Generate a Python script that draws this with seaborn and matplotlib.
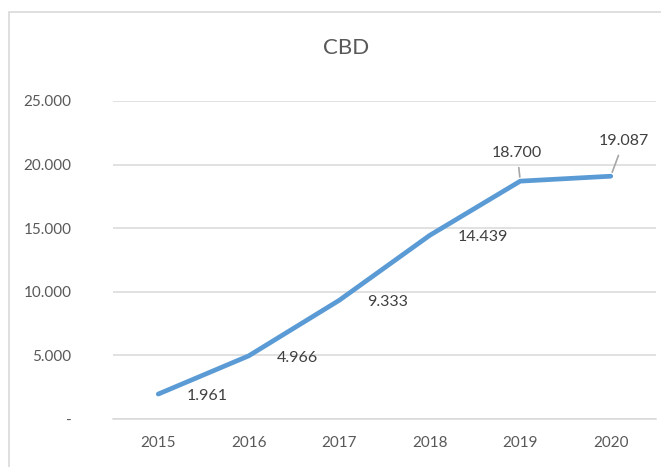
import pandas as pd
import numpy as np
import matplotlib.pyplot as plt
import seaborn as sns
from matplotlib.patches import Rectangle
from matplotlib.ticker import FuncFormatter

sns.set_style('white')
plt.rcParams['font.family'] = ['Lato', 'DejaVu Sans']

# Data
years = [2015, 2016, 2017, 2018, 2019, 2020]
cbd = [1961, 4966, 9333, 14439, 18700, 19087]
labels = ['1.961', '4.966', '9.333', '14.439', '18.700', '19.087']
y_ticks = [0, 5000, 10000, 15000, 20000, 25000]

df = pd.DataFrame({'year': years, 'cbd': cbd})

W, H = 661, 467
fig = plt.figure(figsize=(W / 100, H / 100), dpi=100)
ax = fig.add_axes([113 / W, 1 - 419 / H, (656 - 113) / W, (419 - 101) / H])

# chart frame (Excel style)
fig.patches.append(Rectangle((9 / W, -0.1), 1.2, 1 - 12 / H + 0.1,
                             transform=fig.transFigure, fill=False,
                             edgecolor='#D9D9D9', linewidth=1.2))

sns.lineplot(data=df, x='year', y='cbd', ax=ax, color='#5B9BD5',
             linewidth=3.4, solid_capstyle='round', solid_joinstyle='round')

ax.set_xlim(2014.5, 2020.5)
ax.set_ylim(0, 25000)
ax.set_xticks(years)
ax.set_yticks(y_ticks)
ax.yaxis.set_major_formatter(FuncFormatter(
    lambda v, p: '-' if v == 0 else f'{int(v):,}'.replace(',', '.')))
ax.grid(axis='y', color='#D9D9D9', linewidth=1.1)
ax.set_axisbelow(True)
for s in ['top', 'right', 'left']:
    ax.spines[s].set_visible(False)
ax.spines['bottom'].set_color('#D9D9D9')
ax.spines['bottom'].set_linewidth(1.1)
ax.tick_params(axis='y', length=0, pad=30, labelsize=11, labelcolor='#595959')
ax.tick_params(axis='x', length=0, pad=12, labelsize=11, labelcolor='#595959')
ax.set_xlabel('')
ax.set_ylabel('')

# data labels
for yr, v, lab in zip(years[:4], cbd[:4], labels[:4]):
    ax.annotate(lab, (yr, v), xytext=(28, -2), textcoords='offset pixels',
                ha='left', va='center', fontsize=11.5, color='#404040')

# labels with leader lines
leader = [(-3, 28), (13, 35)]
for (dx, dy), yr, v, lab in zip(leader, years[4:], cbd[4:], labels[4:]):
    ax.annotate(lab, (yr, v), xytext=(dx, dy), textcoords='offset pixels',
                ha='center', va='center', fontsize=11.5, color='#404040',
                arrowprops=dict(arrowstyle='-', color='#A6A6A6', lw=1.2,
                                shrinkA=3, shrinkB=3))

fig.text(346 / W, 1 - 48 / H, 'CBD', ha='center', va='center',
         fontsize=16, color='#595959')

plt.savefig('out.png', dpi=100)
